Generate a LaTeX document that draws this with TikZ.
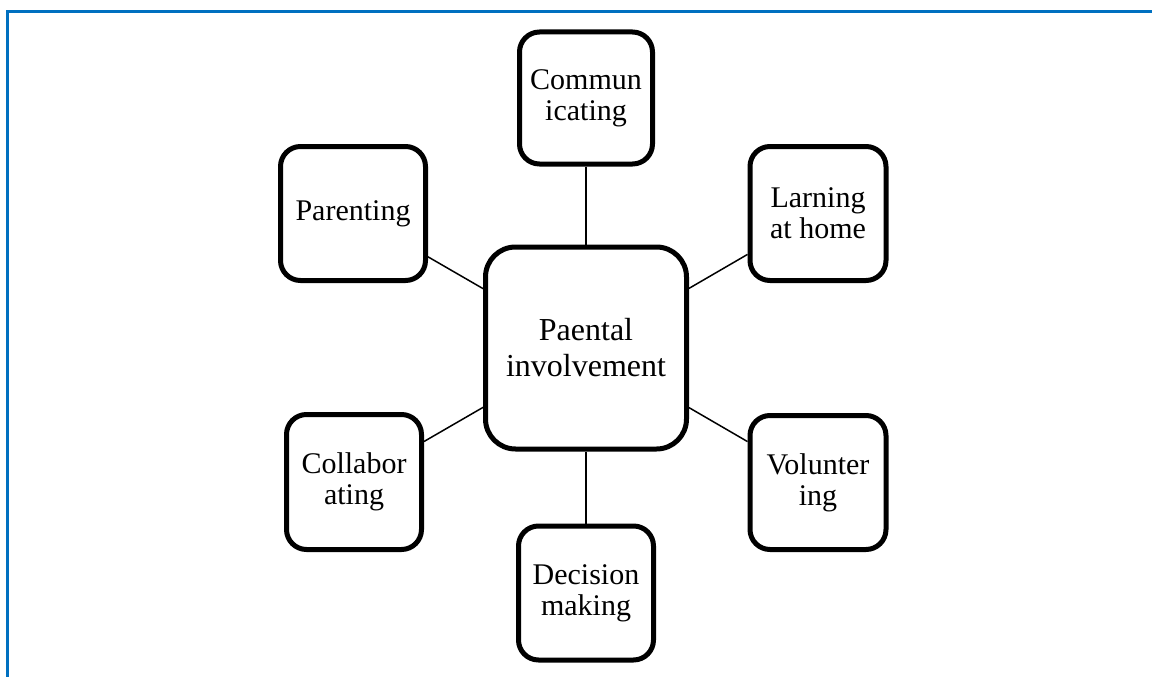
\documentclass[tikz,border=0pt]{standalone}
\usepackage{fontspec}
\setmainfont{Liberation Serif}
\definecolor{frameblue}{HTML}{0070C0}
\begin{document}
\begin{tikzpicture}[x=1pt,y=-1pt,
  box/.style={draw, line width=5pt, rounded corners=20pt, fill=white,
    align=center, inner sep=0pt, font=\fontsize{30}{31}\selectfont},
  hub/.style={draw, line width=5pt, rounded corners=30pt, fill=white,
    align=center, inner sep=0pt, font=\fontsize{32}{36}\selectfont,
    minimum width=201pt, minimum height=202pt},
  link/.style={line width=1.5pt}]
\useasboundingbox (0,0) rectangle (1152,677);
\draw[frameblue, line width=3pt] (7,677) -- (7,12) -- (1152,12);
\node[hub] (ctr) at (586,348) {Paental\\involvement};
\node[box, minimum width=133pt, minimum height=132pt] (com) at (586,98) {Commun\\icating};
\node[box, minimum width=145pt, minimum height=134pt] (par) at (353,213.5) {Parenting};
\node[box, minimum width=136pt, minimum height=134pt] (lar) at (818,213.5) {Larning\\at home};
\node[box, minimum width=135pt, minimum height=135pt] (col) at (354,482) {Collabor\\ating};
\node[box, minimum width=136pt, minimum height=134pt] (vol) at (818,482.5) {Volunter\\ing};
\node[box, minimum width=135pt, minimum height=134pt] (dec) at (586,593) {Decision\\making};
\draw[link] (com) -- (ctr);
\draw[link] (par) -- (ctr);
\draw[link] (lar) -- (ctr);
\draw[link] (col) -- (ctr);
\draw[link] (vol) -- (ctr);
\draw[link] (dec) -- (ctr);
\end{tikzpicture}
\end{document}
